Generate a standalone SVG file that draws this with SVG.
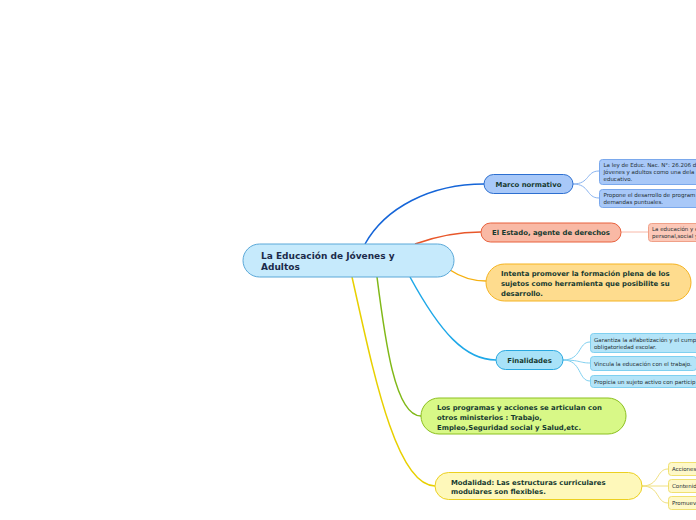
<svg xmlns="http://www.w3.org/2000/svg" width="696" height="520" viewBox="0 0 696 520">
<style>
text{font-family:"DejaVu Sans","Verdana",sans-serif;fill:#163a30}
.t1{font-size:6.9px;font-weight:bold}
.t0{font-size:9px;font-weight:bold;fill:#1b2a4a}
.t2{font-size:5.5px;fill:#1f2f33}
.e{fill:none;stroke-width:1.5}
.s{fill:none;stroke-width:1}
</style>
<rect width="696" height="520" fill="#ffffff"/>
<g id="connectors">
<path class="e" d="M365,244 C385,208 430,184 484,184" stroke="#1565d8"/>
<path class="e" d="M415,244 C440,235 460,232 481,232" stroke="#e8572a"/>
<path class="e" d="M450,270 C462,278 472,281 486,281" stroke="#f5b010"/>
<path class="e" d="M410,277 C440,332 465,360 496,360" stroke="#1ea8e8"/>
<path class="e" d="M377,277 C385,340 395,416 421,416" stroke="#80b818"/>
<path class="e" d="M352,277 C372,365 395,486 435,486" stroke="#e8d000"/>
<path class="s" d="M573,184 C590,184 586,171 599,171 M573,184 C590,184 586,198 599,198" stroke="#8ab4f0"/>
<path class="s" d="M621,232 L648,232" stroke="#f8b8a8"/>
<path class="s" d="M563,360 C582,360 578,342 590,342 M563,360 C580,360 580,363 590,363 M563,360 C582,360 578,381 590,381" stroke="#7fd0f0"/>
<path class="s" d="M642,486 C660,486 656,469 668,469 M642,486 L668,486 M642,486 C660,486 656,503 668,503" stroke="#f0e080"/>
</g>
<g id="central">
<rect x="243" y="244" width="211" height="33" rx="16.5" fill="#c6eafc" stroke="#5aa8d8" stroke-width="1"/>
<text class="t0" x="261" y="259">La Educación de Jóvenes y</text>
<text class="t0" x="261" y="270">Adultos</text>
</g>
<g id="marco">
<rect x="484" y="174.5" width="89" height="19" rx="9.5" fill="#a8c8f8" stroke="#2d6fd0"/>
<text class="t1" x="528.5" y="187" text-anchor="middle">Marco normativo</text>
</g>
<g id="marco-1">
<rect x="599.5" y="159.5" width="110" height="25" rx="3" fill="#a8c8f8" stroke="#7aa8ec"/>
<text class="t2" x="603.5" y="167">La ley de Educ. Nac. N°: 26.206 d</text>
<text class="t2" x="603.5" y="174">Jóvenes y adultos como una dela</text>
<text class="t2" x="603.5" y="181">educativo.</text>
</g>
<g id="marco-2">
<rect x="599.5" y="189.5" width="110" height="18" rx="3" fill="#a8c8f8" stroke="#7aa8ec"/>
<text class="t2" x="603.5" y="197">Propone el desarrollo de program</text>
<text class="t2" x="603.5" y="204">demandas puntuales.</text>
</g>
<g id="estado">
<rect x="481" y="223" width="140" height="19" rx="9.5" fill="#f9b9a5" stroke="#e8603c"/>
<text class="t1" x="551" y="235" text-anchor="middle">El Estado, agente de derechos</text>
</g>
<g id="estado-1">
<rect x="648.5" y="223.5" width="60" height="18" rx="3" fill="#fcc8b8" stroke="#f0a088"/>
<text class="t2" x="652" y="231">La educación y e</text>
<text class="t2" x="652" y="238">personal,social y</text>
</g>
<g id="intenta">
<rect x="486" y="264" width="205" height="37" rx="18.5" fill="#fedc8e" stroke="#f5b320"/>
<text class="t1" x="501" y="276">Intenta promover la formación plena de los</text>
<text class="t1" x="501" y="286">sujetos como herramienta que posibilite su</text>
<text class="t1" x="501" y="296">desarrollo.</text>
</g>
<g id="finalidades">
<rect x="496" y="350.5" width="67" height="19" rx="9.5" fill="#a8e2f8" stroke="#29a8e0"/>
<text class="t1" x="529.5" y="363" text-anchor="middle">Finalidades</text>
</g>
<g id="fin-1">
<rect x="590.5" y="333.5" width="120" height="19" rx="3" fill="#b4e4f8" stroke="#7fd0f0"/>
<text class="t2" x="594" y="342">Garantiza la alfabetización y el cump</text>
<text class="t2" x="594" y="349">obligatoriedad escolar.</text>
</g>
<g id="fin-2">
<rect x="590.5" y="356.5" width="106" height="14" rx="3" fill="#b4e4f8" stroke="#7fd0f0"/>
<text class="t2" x="594" y="365.5">Vincula la educación con el trabajo.</text>
</g>
<g id="fin-3">
<rect x="590.5" y="375.5" width="120" height="12" rx="3" fill="#b4e4f8" stroke="#7fd0f0"/>
<text class="t2" x="594" y="383.5">Propicia un sujeto activo con particip</text>
</g>
<g id="programas">
<rect x="421" y="398" width="205" height="36" rx="18" fill="#d8f887" stroke="#8cc020"/>
<text class="t1" x="437" y="410">Los programas y acciones se articulan con</text>
<text class="t1" x="437" y="420">otros ministerios : Trabajo,</text>
<text class="t1" x="437" y="430">Empleo,Seguridad social y Salud,etc.</text>
</g>
<g id="modalidad">
<rect x="435" y="472.5" width="207" height="27" rx="13.5" fill="#fef8ba" stroke="#ecd020"/>
<text class="t1" x="451" y="485">Modalidad: Las estructuras curriculares</text>
<text class="t1" x="451" y="494">modulares son flexibles.</text>
</g>
<g id="mod-1">
<rect x="668.5" y="462.5" width="50" height="13" rx="3" fill="#fef8c8" stroke="#f0e070"/>
<text class="t2" x="672" y="471">Acciones</text>
</g>
<g id="mod-2">
<rect x="668.5" y="479.5" width="50" height="13" rx="3" fill="#fef8c8" stroke="#f0e070"/>
<text class="t2" x="672" y="488">Contenid</text>
</g>
<g id="mod-3">
<rect x="668.5" y="496.5" width="50" height="13" rx="3" fill="#fef8c8" stroke="#f0e070"/>
<text class="t2" x="672" y="505">Promuev</text>
</g>
</svg>
